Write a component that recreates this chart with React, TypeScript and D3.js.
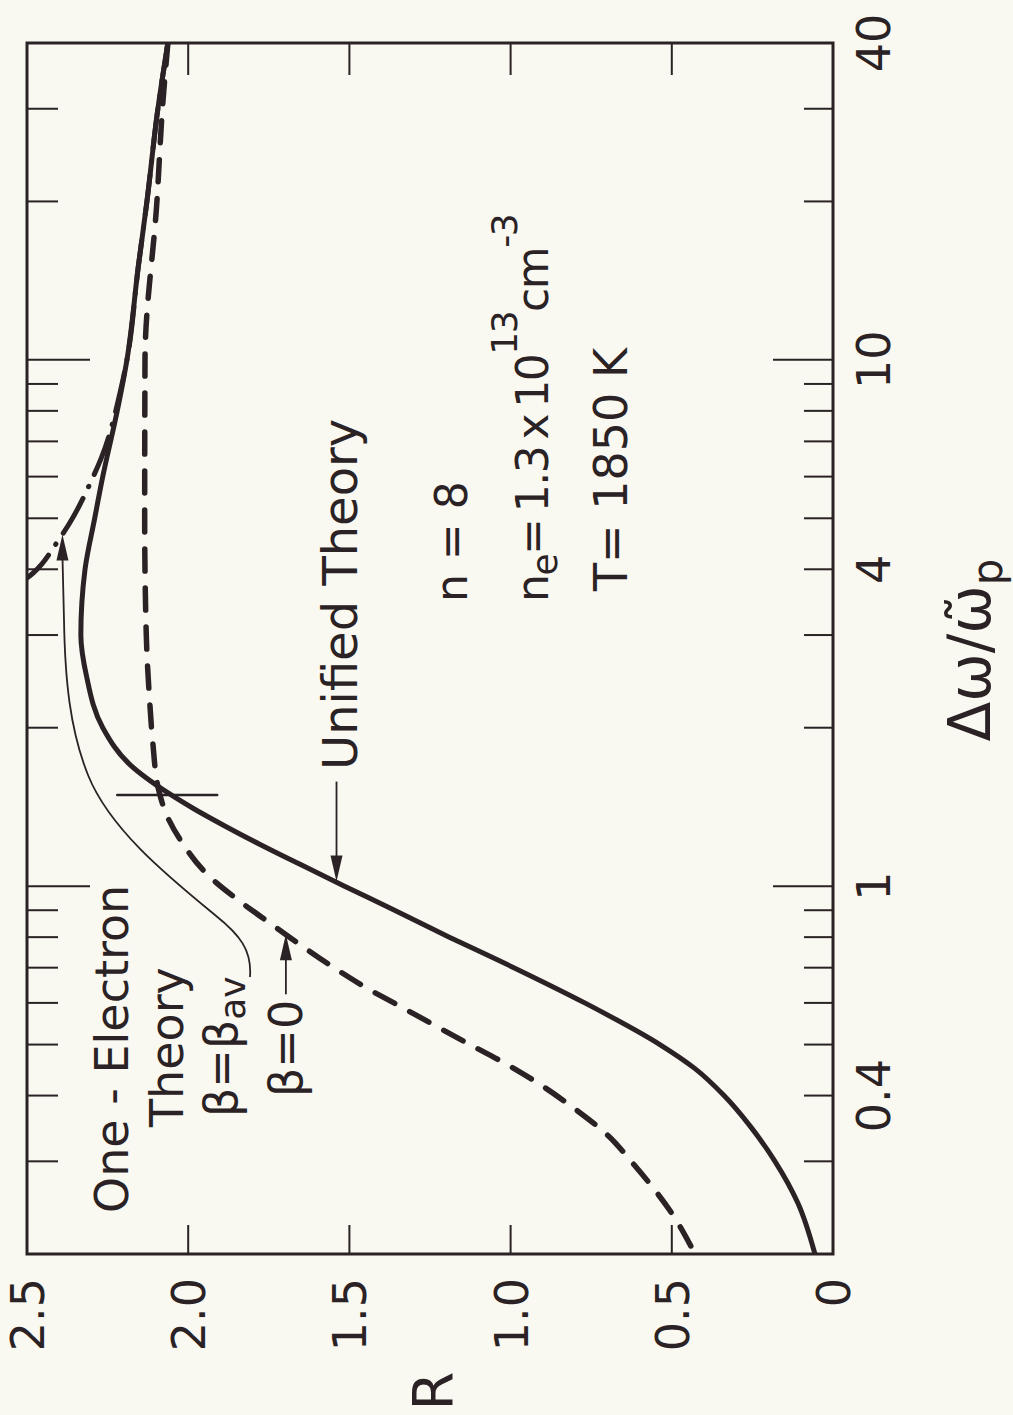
import React from 'react';
import * as d3 from 'd3';

// chart is printed rotated: log axis runs up the page, R runs right-to-left
const unifiedX = [0.2, 0.25, 0.3, 0.35, 0.4, 0.45, 0.5, 0.6, 0.7, 0.8, 0.9, 1.0, 1.1, 1.2, 1.3, 1.4, 1.5, 1.7, 2.0, 2.5, 3, 4, 5, 6, 8, 10, 15, 20, 30, 40];
const unifiedR = [0.056, 0.109, 0.18, 0.257, 0.338, 0.428, 0.537, 0.77, 0.99, 1.19, 1.36, 1.515, 1.653, 1.777, 1.885, 1.98, 2.06, 2.18, 2.265, 2.315, 2.333, 2.32, 2.29, 2.265, 2.22, 2.19, 2.155, 2.128, 2.094, 2.063];

const beta0X = [0.2, 0.24, 0.27, 0.3, 0.336, 0.377, 0.42, 0.463, 0.5, 0.545, 0.6, 0.638, 0.7, 0.784, 0.845, 0.935, 1.05, 1.21, 1.37, 1.51, 1.88, 2.27, 3, 5, 10, 20, 30, 40];
const beta0R = [0.428, 0.502, 0.564, 0.626, 0.698, 0.8, 0.909, 1.024, 1.126, 1.238, 1.362, 1.442, 1.548, 1.666, 1.74, 1.839, 1.939, 2.019, 2.068, 2.09, 2.11, 2.12, 2.13, 2.135, 2.134, 2.097, 2.08, 2.063];

const betaAvX = [3.85, 3.94, 4.47, 4.66, 4.87, 5.9, 6.5, 8.73, 10, 15, 20, 30, 40];
const betaAvR = [2.5, 2.48, 2.41, 2.39, 2.37, 2.3, 2.27, 2.21, 2.19, 2.155, 2.128, 2.094, 2.063];

const majorTicks = [1, 10];
const minorTicks = [0.3, 0.4, 0.5, 0.6, 0.7, 0.8, 0.9, 2, 3, 4, 5, 6, 7, 8, 9, 20, 30];
const xTickLabels = [0.4, 1, 4, 10, 40];
const rTicks = [0.5, 1.0, 1.5, 2.0];
const rTickLabels = [0, 0.5, 1.0, 1.5, 2.0, 2.5];

// the cross mark near the crossing of the two curves
const crossX = 1.49;
const crossR = [1.91, 2.22];

const INK = '#2a2224';
const FONT = '"DejaVu Sans", sans-serif';

const RText = ({ x, y, size, anchor = 'start', spacing, children }: any) => (
  <text
    transform={`translate(${x},${y}) rotate(-90)`}
    fontSize={size}
    textAnchor={anchor}
    letterSpacing={spacing}
    fill={INK}
    fontFamily={FONT}
  >
    {children}
  </text>
);

const arrowHead = (tx: number, ty: number, dir: 'up' | 'down') => {
  const s = dir === 'up' ? 1 : -1;
  return `M${tx},${ty} L${tx - 6},${ty + s * 26} L${tx + 6},${ty + s * 26} Z`;
};

export default function App() {
  const left = 27;
  const right = 833;
  const top = 43;
  const bottom = 1254;

  const r = d3.scaleLinear().domain([0, 2.5]).range([right, left]);
  const w = d3.scaleLog().domain([0.2, 40]).range([bottom, top]);

  // points go top-down on the page so monotoneY gets increasing y
  const line = d3
    .line<[number, number]>()
    .x((d) => r(d[1]))
    .y((d) => w(d[0]))
    .curve(d3.curveMonotoneY);

  const pairs = (xs: number[], rs: number[]) =>
    xs.map((v, i) => [v, rs[i]] as [number, number]).reverse();

  const unified = pairs(unifiedX, unifiedR);
  const beta0 = pairs(beta0X, beta0R);
  const betaAv = pairs(betaAvX, betaAvR);

  // arrow tips sit on the curves
  const uTip = [r(1.54), w(1.02)];
  const b0Tip = [r(1.697), w(0.81)];
  const avTip = [r(2.39), w(4.66)];

  const fmtR = (v: number) => (v === 0 ? '0' : v.toFixed(1));

  return (
    <svg width={1013} height={1415} style={{ position: 'absolute', left: 0, top: 0 }}>
      <rect width={1013} height={1415} fill="#f9f9f1" />
      <defs>
        <clipPath id="plot">
          <rect x={left} y={top} width={right - left} height={bottom - top} />
        </clipPath>
      </defs>

      {/* log axis ticks, both sides */}
      <g stroke={INK} strokeWidth={2}>
        {minorTicks.map((t) => (
          <g key={t}>
            <line x1={left} x2={left + 31} y1={w(t)} y2={w(t)} />
            <line x1={right - 29} x2={right} y1={w(t)} y2={w(t)} />
          </g>
        ))}
        {majorTicks.map((t) => (
          <g key={t}>
            <line x1={left} x2={left + 63} y1={w(t)} y2={w(t)} />
            <line x1={right - 60} x2={right} y1={w(t)} y2={w(t)} />
          </g>
        ))}
        {rTicks.map((t) => (
          <g key={t}>
            <line x1={r(t)} x2={r(t)} y1={top} y2={top + 32} />
            <line x1={r(t)} x2={r(t)} y1={bottom - 29} y2={bottom} />
          </g>
        ))}
      </g>

      <rect
        x={left}
        y={top}
        width={right - left}
        height={bottom - top}
        fill="none"
        stroke={INK}
        strokeWidth={3}
      />

      <g clipPath="url(#plot)" fill="none" stroke={INK} strokeLinecap="round">
        <path d={line(unified) || ''} strokeWidth={5} />
        <path d={line(beta0) || ''} strokeWidth={5.5} strokeDasharray="22 17" />
        <path d={line(betaAv) || ''} strokeWidth={5} strokeDasharray="40 13 0.5 13" />
        <line
          x1={r(crossR[0])}
          x2={r(crossR[1])}
          y1={w(crossX)}
          y2={w(crossX)}
          strokeWidth={2.5}
        />
      </g>

      {/* leader arrows */}
      <g stroke={INK} fill="none" strokeWidth={1.8}>
        <line x1={uTip[0]} x2={uTip[0]} y1={uTip[1] - 100} y2={uTip[1] - 20} />
        <line x1={b0Tip[0]} x2={b0Tip[0]} y1={b0Tip[1] + 60} y2={b0Tip[1] + 20} />
        <path
          d={`M250,977 C252,950 240,935 215,915 C170,878 110,830 88,775 C70,730 65,680 64,620 L${avTip[0]},${avTip[1] + 22}`}
        />
      </g>
      <g fill={INK}>
        <path d={arrowHead(uTip[0], uTip[1], 'down')} />
        <path d={arrowHead(b0Tip[0], b0Tip[1], 'up')} />
        <path d={arrowHead(avTip[0], avTip[1], 'up')} />
      </g>

      {/* tick labels */}
      {rTickLabels.map((t) => (
        <RText key={t} x={r(t) + 17} y={1278} size={46} anchor="end">
          {fmtR(t)}
        </RText>
      ))}
      {xTickLabels.map((t) => (
        <RText key={t} x={890} y={w(t)} size={46} anchor="middle">
          {String(t)}
        </RText>
      ))}

      <RText x={452} y={1391} size={56} anchor="middle">
        R
      </RText>
      <RText x={990} y={650} size={58} anchor="middle">
        {'\u0394\u03C9/\u03C9\u0303'}
        <tspan dy={12} fontSize={42}>
          p
        </tspan>
      </RText>

      <RText x={357} y={770} size={48}>
        Unified Theory
      </RText>
      <RText x={128} y={1213} size={46}>
        One - Electron
      </RText>
      <RText x={183} y={1127} size={46}>
        Theory
      </RText>
      <RText x={237} y={1117} size={46}>
        {'\u03B2=\u03B2'}
        <tspan dy={8} fontSize={36}>
          av
        </tspan>
      </RText>
      <RText x={302} y={1097} size={46}>
        {'\u03B2=0'}
      </RText>

      <RText x={467} y={602} size={44}>
        n = 8
      </RText>
      <RText x={548} y={602} size={44} spacing={-1.5}>
        n
        <tspan dy={9} fontSize={36}>
          e
        </tspan>
        <tspan dy={-9}>{'=\u20091.3\u2009x\u200910'}</tspan>
        <tspan dy={-31} fontSize={36}>
          13
        </tspan>
        <tspan dy={31}>cm</tspan>
        <tspan dy={-31} fontSize={36}>
          -3
        </tspan>
      </RText>
      <RText x={627} y={591} size={46}>
        T= 1850 K
      </RText>
    </svg>
  );
}
